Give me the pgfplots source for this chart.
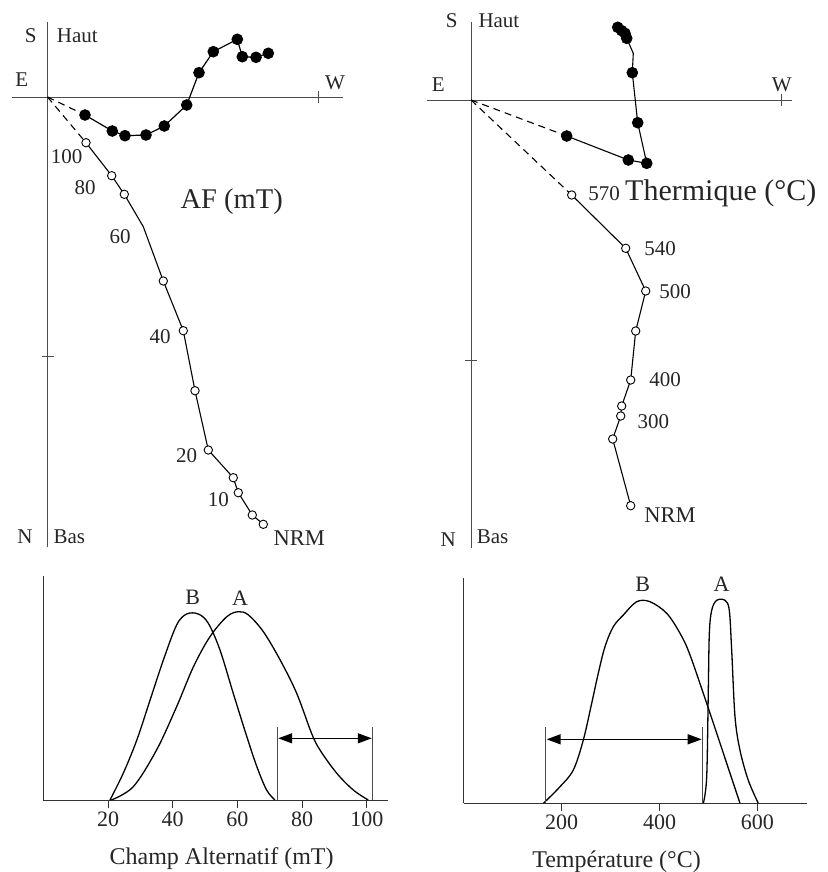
\documentclass[border=0pt]{standalone}
\usepackage{fontspec}
\setmainfont{Liberation Serif}
\usepackage{pgfplots}
\pgfplotsset{compat=1.18}
\usetikzlibrary{arrows.meta}

\newcommand{\fs}[1]{\fontsize{#1}{#1}\selectfont}

\pgfplotsset{
  zij/.style={
    x=1pt, y=1pt, anchor=south west, clip=false,
    axis lines=middle,
    axis line style={-, black!70, line width=0.9pt},
    tick style={black!70, line width=0.9pt},
    tick align=center, major tick length=12pt,
    xticklabels={,,}, yticklabels={,,},
  },
  spec/.style={
    y=1pt, anchor=south west, clip=false,
    axis lines=left,
    axis line style={-, black!80, line width=1pt},
    tick style={black!80, line width=1pt},
    tick align=outside, major tick length=8pt,
    ytick=\empty,
    /pgf/number format/assume math mode=true,
    xticklabel style={font=\fs{22}, black!85},
  },
  filled/.style={black, line width=1.2pt, mark=*, mark size=5.2pt, mark options={solid}},
  open/.style={black, line width=1.1pt, mark=*, mark size=4.2pt,
    mark options={solid, fill=white, draw=black, line width=0.9pt}},
  track/.style={black, line width=1.1pt, no marks},
  dashtrack/.style={black, line width=1.1pt, no marks, dash pattern=on 7pt off 5pt},
  curve/.style={black, line width=1.3pt, no marks, smooth, tension=0.55},
}

\begin{document}
\begin{tikzpicture}
\path[use as bounding box, fill=white] (0,0) rectangle (827pt,-872pt);

% ---------------- Zijderveld diagram: alternating field ----------------
\begin{axis}[zij, at={(12pt,-547pt)},
  xmin=-35.5, xmax=295.5, ymin=-450, ymax=75,
  xtick={270.5}, ytick={-259}]
  % horizontal projection (filled)
  \addplot[dashtrack] coordinates {(0,0) (37.5,-18)};
  \addplot[filled] coordinates {
    (37.5,-18) (64.8,-34) (77.5,-38.7) (98.5,-38) (116.8,-29) (139.2,-8)
    (151.5,24.3) (165.8,45.3) (189.8,57.7) (194.8,40.3) (208.5,39.7) (220.8,43.7)};
  % vertical projection (open)
  \addplot[dashtrack] coordinates {(0,0) (38.5,-45.7)};
  \addplot[track] coordinates {
    (38.5,-45.7) (64.2,-78.7) (76.8,-97.3) (95.8,-129.7) (115.8,-184)
    (135.8,-233.7) (147.5,-293.7) (160.8,-353) (185.8,-380.7) (190.8,-395.7)
    (204.8,-418) (215.8,-427.3)};
  \addplot[open, only marks] coordinates {
    (38.5,-45.7) (64.2,-78.7) (76.8,-97.3) (115.8,-184)
    (135.8,-233.7) (147.5,-293.7) (160.8,-353) (185.8,-380.7) (190.8,-395.7)
    (204.8,-418) (215.8,-427.3)};
  \begin{scope}[every node/.style={font=\fs{21}, text=black!85, inner sep=0pt}]
    \node at (axis cs:19.2,-59.7) {100};
    \node at (axis cs:37.5,-91) {80};
    \node at (axis cs:72.5,-139.7) {60};
    \node at (axis cs:112.5,-240) {40};
    \node at (axis cs:139.2,-359) {20};
    \node at (axis cs:170.8,-403) {10};
    \node[font=\fs{22.5}] at (axis cs:251.8,-441.3) {NRM};
    \node at (axis cs:-16.8,61) {S};
    \node[anchor=west] at (axis cs:9.2,61) {Haut};
    \node at (axis cs:-25.8,17) {E};
    \node at (axis cs:287.5,14) {W};
    \node at (axis cs:-22.5,-439.7) {N};
    \node[anchor=west] at (axis cs:5.8,-439.7) {Bas};
  \end{scope}
  \node[font=\fs{28.5}, text=black!85] at (axis cs:184.2,-104.7) {AF (mT)};
\end{axis}

% ---------------- Zijderveld diagram: thermal ----------------
\begin{axis}[zij, at={(426.7pt,-548pt)},
  xmin=-44.3, xmax=320.7, ymin=-448, ymax=78,
  xtick={310.7}, ytick={-260}]
  % horizontal projection (filled)
  \addplot[dashtrack] coordinates {(0,0) (95.7,-36)};
  \addplot[track] coordinates {
    (146.7,72.7) (150.7,69.3) (154,66.7) (155.7,61.7) (162.3,46.7)
    (161.3,27.3) (166.7,-22.7) (175.7,-63.3) (157.3,-60) (95.7,-36)};
  \addplot[filled, only marks] coordinates {
    (146.7,72.7) (150.7,69.3) (154,66.7) (155.7,61.7)
    (161.3,27.3) (166.7,-22.7) (175.7,-63.3) (157.3,-60) (95.7,-36)};
  % vertical projection (open)
  \addplot[dashtrack] coordinates {(0,0) (100.7,-95)};
  \addplot[open] coordinates {
    (100.7,-95) (154.7,-148.3) (174.7,-191) (164.7,-231) (159.7,-280)
    (150.7,-306) (149.7,-316) (141.7,-339) (159.7,-405.7)};
  \begin{scope}[every node/.style={font=\fs{21}, text=black!85, inner sep=0pt}]
    \node at (axis cs:133,-93.3) {570};
    \node at (axis cs:189,-148.3) {540};
    \node at (axis cs:204,-191.7) {500};
    \node at (axis cs:194,-280) {400};
    \node at (axis cs:182.3,-321.7) {300};
    \node[font=\fs{22.5}] at (axis cs:199,-415) {NRM};
    \node at (axis cs:-19.3,79.3) {S};
    \node[anchor=west] at (axis cs:7.3,79.3) {Haut};
    \node at (axis cs:-32.7,15) {E};
    \node at (axis cs:310.7,15) {W};
    \node at (axis cs:-22.7,-440) {N};
    \node[anchor=west] at (axis cs:5.7,-437) {Bas};
  \end{scope}
  \node[font=\fs{30}, text=black!85, anchor=west, inner sep=0pt]
    at (axis cs:154,-93.3) {Thermique (°C)};
\end{axis}

% ---------------- Coercivity spectra ----------------
\begin{axis}[spec, x=3.236pt, at={(43.3pt,-800pt)},
  xmin=0, xmax=106.5, ymin=0, ymax=224,
  xtick={20,40,60,80,100}]
  \addplot[curve] coordinates {
    (20.6,0) (24.7,26.7) (28.9,60) (33,100) (37.1,140) (41.2,175) (44.3,186)
    (47.9,186) (51,176.7) (54.6,150) (58.7,106.7) (62.9,63.3) (66,33.3)
    (69,10) (71.6,0)};
  \addplot[curve] coordinates {
    (21,0) (27.8,13.3) (35,50) (41.2,93.3) (46.4,133.3) (51.5,163.3)
    (56.7,183.3) (60.3,188.3) (63.4,185) (68,168.3) (73.2,140) (78.3,106.7)
    (82.9,66.7) (85.5,50) (90.7,26.7) (95.8,10) (100.4,0)};
  \addplot[black!70, line width=0.6pt] coordinates {(72.4,0) (72.4,73)};
  \addplot[black!70, line width=0.6pt] coordinates {(101.7,0) (101.7,73)};
  \addplot[black, line width=1.4pt,
    {Triangle[length=14pt,width=10pt]}-{Triangle[length=14pt,width=10pt]}]
    coordinates {(72.6,61.7) (101.5,61.7)};
  \node[font=\fs{22}, text=black!85] at (axis cs:46.2,203) {B};
  \node[font=\fs{22}, text=black!85] at (axis cs:60.8,201.7) {A};
  \node[font=\fs{24}, text=black!85] at (axis cs:55.1,-58.3) {Champ Alternatif (mT)};
\end{axis}

% ---------------- Blocking temperature spectra ----------------
\begin{axis}[spec, x=0.489pt, at={(463.9pt,-803.3pt)},
  xmin=0, xmax=701, ymin=0, ymax=225,
  xtick={200,400,600}]
  \addplot[curve] coordinates {
    (162.6,0) (196.5,16.6) (223.7,33.3) (244.2,63.3) (261.3,100) (274.8,130)
    (288.5,156.6) (305.5,176.6) (326,188.3) (353.4,201.6) (380.6,201.6)
    (414.7,190) (441.9,170) (462.4,148.3) (503.3,90) (537.4,40) (564.6,0)};
  \addplot[curve] coordinates {
    (489.6,0) (496.5,26.6) (499.8,113) (501.9,170) (506.7,193) (516.9,203)
    (533.9,203) (542.7,193) (547.6,153) (554.4,86.6) (564.6,53)
    (581.6,23) (602,0)};
  \addplot[black!70, line width=0.6pt] coordinates {(166,0) (166,76.7)};
  \addplot[black!70, line width=0.6pt] coordinates {(488.3,0) (488.3,76.7)};
  \addplot[black, line width=1.4pt,
    {Triangle[length=14pt,width=10pt]}-{Triangle[length=14pt,width=10pt]}]
    coordinates {(169.3,64) (486.3,64)};
  \node[font=\fs{22}, text=black!85] at (axis cs:365.6,219) {B};
  \node[font=\fs{22}, text=black!85] at (axis cs:527,219) {A};
  \node[font=\fs{24}, text=black!85] at (axis cs:312.1,-58.4) {Température (°C)};
\end{axis}
\end{tikzpicture}
\end{document}
